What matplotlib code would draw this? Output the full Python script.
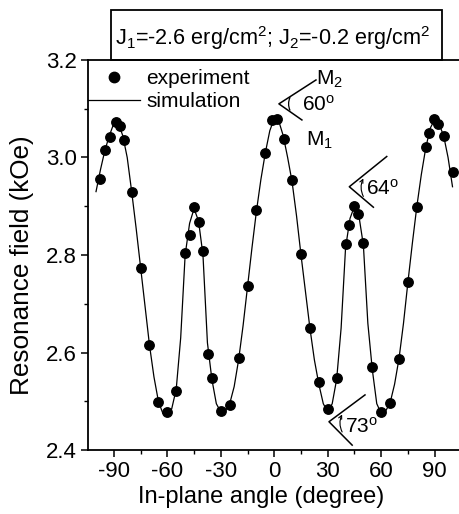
import numpy as np
import matplotlib.pyplot as plt
from matplotlib.patches import Rectangle
from matplotlib.ticker import MultipleLocator, FormatStrFormatter

plt.rcParams['font.family'] = ['Liberation Sans', 'DejaVu Sans']
plt.rcParams['mathtext.fontset'] = 'custom'
plt.rcParams['mathtext.rm'] = 'Liberation Sans'
plt.rcParams['mathtext.it'] = 'Liberation Sans'
plt.rcParams['axes.unicode_minus'] = False

# measured points (angle in degree, field in kOe)
exp_angle = [-98, -95, -92, -89, -86.5, -84.5, -80, -75, -70, -65, -60, -55,
             -50, -47, -45, -42, -40, -37, -35, -30, -25, -20, -15, -10, -5,
             -1.5, 1.5, 5.5, 10, 15, 20, 25, 30, 35, 40, 42, 45, 47, 50, 55,
             60, 65, 70, 75, 80, 85, 87, 89.5, 92, 95.5, 100]
exp_field = [2.955, 3.016, 3.042, 3.072, 3.065, 3.035, 2.929, 2.774, 2.616,
             2.498, 2.477, 2.522, 2.805, 2.840, 2.899, 2.868, 2.808, 2.596,
             2.547, 2.480, 2.492, 2.589, 2.736, 2.893, 3.010, 3.076, 3.079,
             3.038, 2.954, 2.802, 2.650, 2.540, 2.484, 2.547, 2.823, 2.862,
             2.900, 2.884, 2.825, 2.570, 2.477, 2.497, 2.587, 2.744, 2.898,
             3.021, 3.051, 3.078, 3.068, 3.044, 2.971]

sim_angle = np.arange(-100, 100.1, 2.5)
sim_field = [2.930, 2.975, 3.015, 3.045, 3.070, 3.070, 3.045, 3.000, 2.930,
             2.855, 2.775, 2.695, 2.615, 2.550, 2.500, 2.475, 2.470, 2.485,
             2.525, 2.630, 2.800, 2.865, 2.895, 2.870, 2.800, 2.620, 2.545,
             2.495, 2.478, 2.480, 2.495, 2.530, 2.585, 2.655, 2.735, 2.815,
             2.890, 2.955, 3.010, 3.055, 3.080, 3.075, 3.045, 3.000, 2.950,
             2.880, 2.800, 2.725, 2.650, 2.585, 2.535, 2.495, 2.478, 2.495,
             2.545, 2.650, 2.815, 2.875, 2.900, 2.880, 2.820, 2.660, 2.565,
             2.495, 2.475, 2.480, 2.497, 2.535, 2.588, 2.660, 2.745, 2.825,
             2.900, 2.965, 3.020, 3.060, 3.078, 3.068, 3.045, 3.000, 2.940]

fig = plt.figure(figsize=(4.6, 5.14), dpi=100)
ax = fig.add_axes([0.1913, 0.1245, 0.8087, 0.7588])

ax.plot(exp_angle, exp_field, 'o', color='black', ms=6.8, label='experiment')
ax.plot(sim_angle, sim_field, '-', color='black', lw=0.9, label='simulation')

ax.set_xlim(-104.5, 104.2)
ax.set_ylim(2.4, 3.2)
ax.xaxis.set_major_locator(MultipleLocator(30))
ax.xaxis.set_minor_locator(MultipleLocator(15))
ax.yaxis.set_major_locator(MultipleLocator(0.2))
ax.yaxis.set_minor_locator(MultipleLocator(0.1))
ax.yaxis.set_major_formatter(FormatStrFormatter('%.1f'))
ax.tick_params(which='major', direction='out', length=5, width=1.1, labelsize=16, pad=3)
ax.tick_params(which='minor', direction='out', length=3, width=1)
ax.spines['right'].set_visible(False)
for s in ['left', 'bottom', 'top']:
    ax.spines[s].set_linewidth(1.3)

ax.set_xlabel('In-plane angle (degree)', fontsize=17)
ax.set_ylabel('Resonance field (kOe)', fontsize=18.8)
ax.xaxis.set_label_coords(0.465, -0.092)
ax.yaxis.set_label_coords(-0.145, 0.474)

ax.legend(loc='upper left', bbox_to_anchor=(0, 0.977), frameon=False, fontsize=15,
          handlelength=2.5, handletextpad=0.3, borderaxespad=0, borderpad=0.0,
          labelspacing=0.2, numpoints=1, markerscale=1.1)

# angle sketches
def angle_mark(v, up, down, label, tx, ty):
    ax.plot([up[0], v[0], down[0]], [up[1], v[1], down[1]], color='black', lw=1.1)
    ax.text(tx, ty, label, fontsize=15, va='center', ha='left')

angle_mark((2.6, 3.110), (23.4, 3.159), (15.5, 3.077), '60$^{\\rm o}$', 15.5, 3.108)
ax.annotate('', xy=(9.5, 3.128), xytext=(9.5, 3.092),
            arrowprops=dict(arrowstyle='-', connectionstyle='arc3,rad=-0.3', lw=0.9))
ax.text(23.5, 3.160, 'M$_2$', fontsize=15, va='center', ha='left')
ax.text(18.0, 3.036, 'M$_1$', fontsize=15, va='center', ha='left')

angle_mark((42.1, 2.940), (63.1, 3.002), (55.6, 2.898), '64$^{\\rm o}$', 51.5, 2.936)
ax.annotate('', xy=(50.7, 2.962), xytext=(50.7, 2.915),
            arrowprops=dict(arrowstyle='->', connectionstyle='arc3,rad=-0.3', lw=0.8,
                            mutation_scale=6))

angle_mark((30.7, 2.458), (50.9, 2.513), (43.7, 2.410), '73$^{\\rm o}$', 39.8, 2.447)
ax.annotate('', xy=(38.8, 2.478), xytext=(38.8, 2.432),
            arrowprops=dict(arrowstyle='->', connectionstyle='arc3,rad=-0.3', lw=0.8,
                            mutation_scale=6))

# parameter box above the plot
fig.patches.append(Rectangle((0.241, 0.8833), 0.719, 0.0972, transform=fig.transFigure,
                             fill=False, edgecolor='black', lw=1.3))
fig.text(0.592, 0.9125, 'J$_1$=-2.6 erg/cm$^2$; J$_2$=-0.2 erg/cm$^2$',
         fontsize=15.6, ha='center', va='baseline')

fig.savefig('out.png', dpi=100)
